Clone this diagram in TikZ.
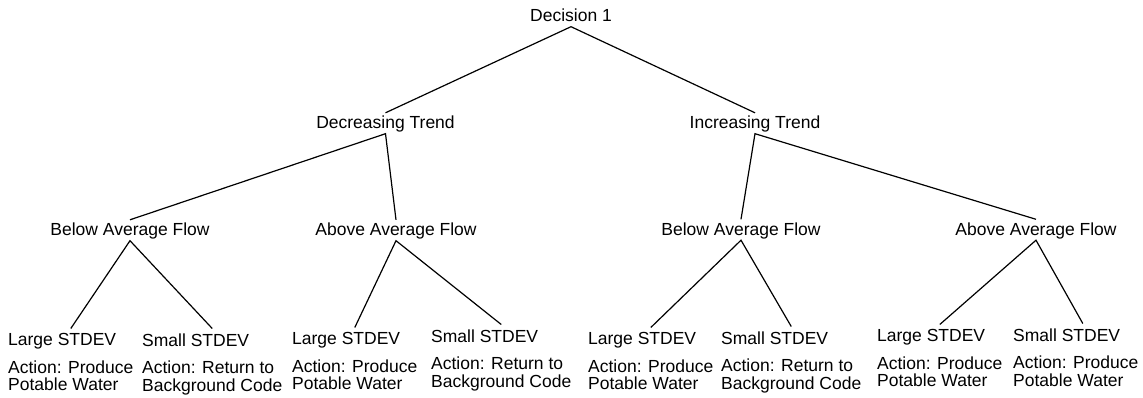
\documentclass[tikz,border=0pt]{standalone}
\usepackage{fontspec}
\setmainfont{Liberation Sans}
\begin{document}
\begin{tikzpicture}[x=1pt,y=-1pt,
  lab/.style={font=\fontsize{17.5}{19.5}\selectfont, inner sep=0pt, text height=16pt, text depth=4.5pt, anchor=base},
  leaf/.style={font=\fontsize{17.5}{19.5}\selectfont, inner xsep=0pt, inner ysep=5pt, align=left, anchor=north west},
  edge/.style={line width=1.2pt, black}]
\useasboundingbox (0,0) rectangle (1143,398);
\node[lab] (d1) at (571,22) {Decision 1};
\node[lab] (dec) at (385.5,129) {Decreasing Trend};
\node[lab] (inc) at (755,129) {Increasing Trend};
\node[lab] (b1) at (130,236) {Below Average Flow};
\node[lab] (a1) at (396,236) {Above Average Flow};
\node[lab] (b2) at (741,235.5) {Below Average Flow};
\node[lab] (a2) at (1036,235.5) {Above Average Flow};
\node[leaf] (l1) at (8,328.5) {Large STDEV\\[8pt]Action: Produce\\[-2pt]Potable Water};
\node[leaf] (l2) at (142,328.5) {Small STDEV\\[8pt]Action: Return to\\[-2pt]Background Code};
\node[leaf] (l3) at (292,327.5) {Large STDEV\\[8pt]Action: Produce\\[-2pt]Potable Water};
\node[leaf] (l4) at (431,324.5) {Small STDEV\\[8pt]Action: Return to\\[-2pt]Background Code};
\node[leaf] (l5) at (588,327.5) {Large STDEV\\[8pt]Action: Produce\\[-2pt]Potable Water};
\node[leaf] (l6) at (721,326.5) {Small STDEV\\[8pt]Action: Return to\\[-2pt]Background Code};
\node[leaf] (l7) at (877,324.5) {Large STDEV\\[8pt]Action: Produce\\[-2pt]Potable Water};
\node[leaf] (l8) at (1013,323.5) {Small STDEV\\[8pt]Action: Produce\\[-2pt]Potable Water};
\draw[edge] (dec.north) -- (d1.south) -- (inc.north);
\draw[edge] (b1.north) -- (dec.south) -- (a1.north);
\draw[edge] (b2.north) -- (inc.south) -- (a2.north);
\draw[edge] (l1.north) -- (b1.south) -- (l2.north);
\draw[edge] (l3.north) -- (a1.south) -- (l4.north);
\draw[edge] (l5.north) -- (b2.south) -- (l6.north);
\draw[edge] (l7.north) -- (a2.south) -- ([xshift=7pt]l8.north);
\end{tikzpicture}
\end{document}
